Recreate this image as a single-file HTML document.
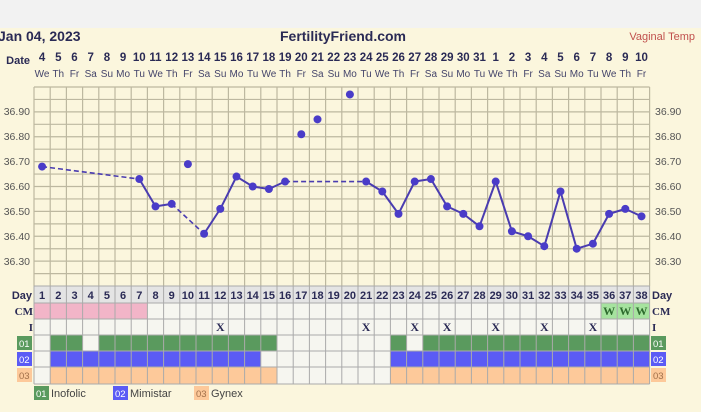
<!DOCTYPE html>
<html><head><meta charset="utf-8"><style>
body{margin:0;width:701px;height:412px;overflow:hidden;background:#f2f2f2;font-family:"Liberation Sans",sans-serif}
svg{display:block}
</style></head><body>
<svg id="s" width="701" height="412" xmlns="http://www.w3.org/2000/svg" font-family="Liberation Sans, sans-serif">
<rect x="0" y="0" width="701" height="412" fill="#f2f2f2"/>
<rect x="0" y="28" width="701" height="384" fill="#fbf6dd"/>
<g id="grid"></g>
<text x="-2" y="41" font-size="14" font-weight="bold" fill="#2a2a55">Jan 04, 2023</text>
<text x="343" y="41" font-size="14" font-weight="bold" fill="#2a2a55" text-anchor="middle">FertilityFriend.com</text>
<text x="695" y="40" font-size="11" fill="#c0504d" text-anchor="end">Vaginal Temp</text>
<text x="30" y="64" font-size="11" font-weight="bold" fill="#2a2a55" text-anchor="end">Date</text>
<g font-size="11.5" font-weight="bold" fill="#2a2a55" text-anchor="middle">
<text x="42.1" y="61">4</text><text x="58.3" y="61">5</text><text x="74.5" y="61">6</text><text x="90.7" y="61">7</text><text x="106.9" y="61">8</text><text x="123.1" y="61">9</text><text x="139.3" y="61">10</text><text x="155.5" y="61">11</text><text x="171.7" y="61">12</text><text x="187.9" y="61">13</text><text x="204.1" y="61">14</text><text x="220.3" y="61">15</text><text x="236.5" y="61">16</text><text x="252.7" y="61">17</text><text x="268.9" y="61">18</text><text x="285.1" y="61">19</text><text x="301.3" y="61">20</text><text x="317.5" y="61">21</text><text x="333.7" y="61">22</text><text x="349.9" y="61">23</text><text x="366.1" y="61">24</text><text x="382.3" y="61">25</text><text x="398.5" y="61">26</text><text x="414.7" y="61">27</text><text x="430.9" y="61">28</text><text x="447.1" y="61">29</text><text x="463.3" y="61">30</text><text x="479.5" y="61">31</text><text x="495.7" y="61">1</text><text x="511.9" y="61">2</text><text x="528.1" y="61">3</text><text x="544.3" y="61">4</text><text x="560.5" y="61">5</text><text x="576.7" y="61">6</text><text x="592.9" y="61">7</text><text x="609.1" y="61">8</text><text x="625.3" y="61">9</text><text x="641.5" y="61">10</text>
</g>
<g font-size="10" fill="#44446a" text-anchor="middle">
<text x="42.1" y="77">We</text><text x="58.3" y="77">Th</text><text x="74.5" y="77">Fr</text><text x="90.7" y="77">Sa</text><text x="106.9" y="77">Su</text><text x="123.1" y="77">Mo</text><text x="139.3" y="77">Tu</text><text x="155.5" y="77">We</text><text x="171.7" y="77">Th</text><text x="187.9" y="77">Fr</text><text x="204.1" y="77">Sa</text><text x="220.3" y="77">Su</text><text x="236.5" y="77">Mo</text><text x="252.7" y="77">Tu</text><text x="268.9" y="77">We</text><text x="285.1" y="77">Th</text><text x="301.3" y="77">Fr</text><text x="317.5" y="77">Sa</text><text x="333.7" y="77">Su</text><text x="349.9" y="77">Mo</text><text x="366.1" y="77">Tu</text><text x="382.3" y="77">We</text><text x="398.5" y="77">Th</text><text x="414.7" y="77">Fr</text><text x="430.9" y="77">Sa</text><text x="447.1" y="77">Su</text><text x="463.3" y="77">Mo</text><text x="479.5" y="77">Tu</text><text x="495.7" y="77">We</text><text x="511.9" y="77">Th</text><text x="528.1" y="77">Fr</text><text x="544.3" y="77">Sa</text><text x="560.5" y="77">Su</text><text x="576.7" y="77">Mo</text><text x="592.9" y="77">Tu</text><text x="609.1" y="77">We</text><text x="625.3" y="77">Th</text><text x="641.5" y="77">Fr</text>
</g>
<g font-size="10.5" fill="#555">
<text x="30" y="115" text-anchor="end">36.90</text><text x="30" y="140" text-anchor="end">36.80</text><text x="30" y="165" text-anchor="end">36.70</text><text x="30" y="190" text-anchor="end">36.60</text><text x="30" y="215" text-anchor="end">36.50</text><text x="30" y="240" text-anchor="end">36.40</text><text x="30" y="265" text-anchor="end">36.30</text>
<text x="655" y="115">36.90</text><text x="655" y="140">36.80</text><text x="655" y="165">36.70</text><text x="655" y="190">36.60</text><text x="655" y="215">36.50</text><text x="655" y="240">36.40</text><text x="655" y="265">36.30</text>
</g>
<g id="data"></g>
<g font-size="11" font-weight="bold" fill="#2a2a55" text-anchor="middle">
<text x="42.1" y="299">1</text><text x="58.3" y="299">2</text><text x="74.5" y="299">3</text><text x="90.7" y="299">4</text><text x="106.9" y="299">5</text><text x="123.1" y="299">6</text><text x="139.3" y="299">7</text><text x="155.5" y="299">8</text><text x="171.7" y="299">9</text><text x="187.9" y="299">10</text><text x="204.1" y="299">11</text><text x="220.3" y="299">12</text><text x="236.5" y="299">13</text><text x="252.7" y="299">14</text><text x="268.9" y="299">15</text><text x="285.1" y="299">16</text><text x="301.3" y="299">17</text><text x="317.5" y="299">18</text><text x="333.7" y="299">19</text><text x="349.9" y="299">20</text><text x="366.1" y="299">21</text><text x="382.3" y="299">22</text><text x="398.5" y="299">23</text><text x="414.7" y="299">24</text><text x="430.9" y="299">25</text><text x="447.1" y="299">26</text><text x="463.3" y="299">27</text><text x="479.5" y="299">28</text><text x="495.7" y="299">29</text><text x="511.9" y="299">30</text><text x="528.1" y="299">31</text><text x="544.3" y="299">32</text><text x="560.5" y="299">33</text><text x="576.7" y="299">34</text><text x="592.9" y="299">35</text><text x="609.1" y="299">36</text><text x="625.3" y="299">37</text><text x="641.5" y="299">38</text>
</g>
<g font-family="Liberation Serif, serif" font-size="12" font-weight="bold" fill="#2a2a55" text-anchor="middle">
<text x="220.3" y="331">X</text><text x="366.1" y="331">X</text><text x="414.7" y="331">X</text><text x="447.1" y="331">X</text><text x="495.7" y="331">X</text><text x="544.3" y="331">X</text><text x="592.9" y="331">X</text>
<text x="609.1" y="315" fill="#2e6b2e">W</text><text x="625.3" y="315" fill="#2e6b2e">W</text><text x="641.5" y="315" fill="#2e6b2e">W</text>
</g>
<g font-size="11" font-weight="bold" fill="#2a2a55">
<text x="32" y="299" text-anchor="end">Day</text>
<text x="33" y="315" text-anchor="end" font-family="Liberation Serif, serif">CM</text>
<text x="33" y="331" text-anchor="end" font-family="Liberation Serif, serif">I</text>
<text x="652" y="299">Day</text>
<text x="652" y="315" font-family="Liberation Serif, serif">CM</text>
<text x="652" y="331" font-family="Liberation Serif, serif">I</text>
</g>
<rect x="17" y="336" width="15" height="14" fill="#5a9a5e"/><rect x="17" y="352" width="15" height="14" fill="#5b5bf5"/><rect x="17" y="368" width="15" height="14" fill="#fdc99a"/>
<rect x="651" y="336" width="15" height="14" fill="#5a9a5e"/><rect x="651" y="352" width="15" height="14" fill="#5b5bf5"/><rect x="651" y="368" width="15" height="14" fill="#fdc99a"/>
<g font-size="9.5">
<text x="19" y="347" fill="#fff">01</text><text x="19" y="363" fill="#fff">02</text><text x="19" y="379" fill="#a0704a">03</text>
<text x="653" y="347" fill="#fff">01</text><text x="653" y="363" fill="#fff">02</text><text x="653" y="379" fill="#a0704a">03</text>
</g>
<rect x="34" y="386" width="15" height="14" fill="#5a9a5e"/><rect x="113" y="386" width="15" height="14" fill="#5b5bf5"/><rect x="194" y="386" width="15" height="14" fill="#fdc99a"/>
<g font-size="9.5"><text x="36" y="397" fill="#fff">01</text><text x="115" y="397" fill="#fff">02</text><text x="196" y="397" fill="#a0704a">03</text></g>
<g font-size="11" fill="#444"><text x="51" y="397">Inofolic</text><text x="130" y="397">Mimistar</text><text x="211" y="397">Gynex</text></g>
</svg>
<script>
var NS="http://www.w3.org/2000/svg",g=document.getElementById("grid"),dg=document.getElementById("data");
function el(p,t,a){var e=document.createElementNS(NS,t);for(var k in a)e.setAttribute(k,a[k]);p.appendChild(e);return e;}
var L=34,W=16.2,N=38,R=L+W*N;
function X(d){return L+(d-0.5)*W;}
function Y(v){return 87+(37.0-v)*248.75;}
// temp grid
for(var i=0;i<=16;i++){var y=87+i*12.44;el(g,"line",{x1:L,x2:R,y1:y,y2:y,stroke:"#bdb8a0","stroke-width":1.2});}
for(var i=0;i<=N;i++){var x=L+i*W;el(g,"line",{x1:x,x2:x,y1:87,y2:286,stroke:"#bdb8a0","stroke-width":1.2});}
// bottom rows
var rows=[286,303,319,335,351,367,384];
var green=[2,3,5,6,7,8,9,10,11,12,13,14,15,23,25,26,27,28,29,30,31,32,33,34,35,36,37,38];
for(var d=1;d<=N;d++){var x=L+(d-1)*W;
 el(g,"rect",{x:x,y:286,width:W,height:17,fill:"#e4e4e4"});
 var cm=d<=7?"#f2b5c8":(d>=36?"#a6e39f":"#f6f6f0");el(g,"rect",{x:x,y:303,width:W,height:16,fill:cm});
 el(g,"rect",{x:x,y:319,width:W,height:16,fill:"#f6f6f0"});
 el(g,"rect",{x:x,y:335,width:W,height:16,fill:green.indexOf(d)>=0?"#5a9a5e":"#f6f6f0"});
 el(g,"rect",{x:x,y:351,width:W,height:16,fill:((d>=2&&d<=14)||d>=23)?"#5b5bf5":"#f6f6f0"});
 el(g,"rect",{x:x,y:367,width:W,height:17,fill:((d>=2&&d<=15)||d>=23)?"#fdc99a":"#f6f6f0"});
}
for(var i=0;i<rows.length;i++)el(g,"line",{x1:L,x2:R,y1:rows[i],y2:rows[i],stroke:"#aaa","stroke-width":1});
for(var i=0;i<=N;i++){var x=L+i*W;el(g,"line",{x1:x,x2:x,y1:286,y2:384,stroke:"#aaa","stroke-width":1});}
var t={1:36.68,7:36.63,8:36.52,9:36.53,10:36.69,11:36.41,12:36.51,13:36.64,14:36.60,15:36.59,16:36.62,17:36.81,18:36.87,20:36.97,21:36.62,22:36.58,23:36.49,24:36.62,25:36.63,26:36.52,27:36.49,28:36.44,29:36.62,30:36.42,31:36.40,32:36.36,33:36.58,34:36.35,35:36.37,36:36.49,37:36.51,38:36.48};
var segs=[[1,7,1],[7,8,0],[8,9,0],[9,11,1],[11,12,0],[12,13,0],[13,14,0],[14,15,0],[15,16,0],[16,21,1]];
for(var d=21;d<38;d++)segs.push([d,d+1,0]);
segs.forEach(function(s){var a={x1:X(s[0]),y1:Y(t[s[0]]),x2:X(s[1]),y2:Y(t[s[1]]),stroke:"#4a3cb0","stroke-width":s[2]?1.6:2};if(s[2])a["stroke-dasharray"]="5,3";el(dg,"line",a);});
for(var d in t)el(dg,"circle",{cx:X(+d),cy:Y(t[d]),r:4,fill:"#4a3cc8"});
</script>
</body></html>
